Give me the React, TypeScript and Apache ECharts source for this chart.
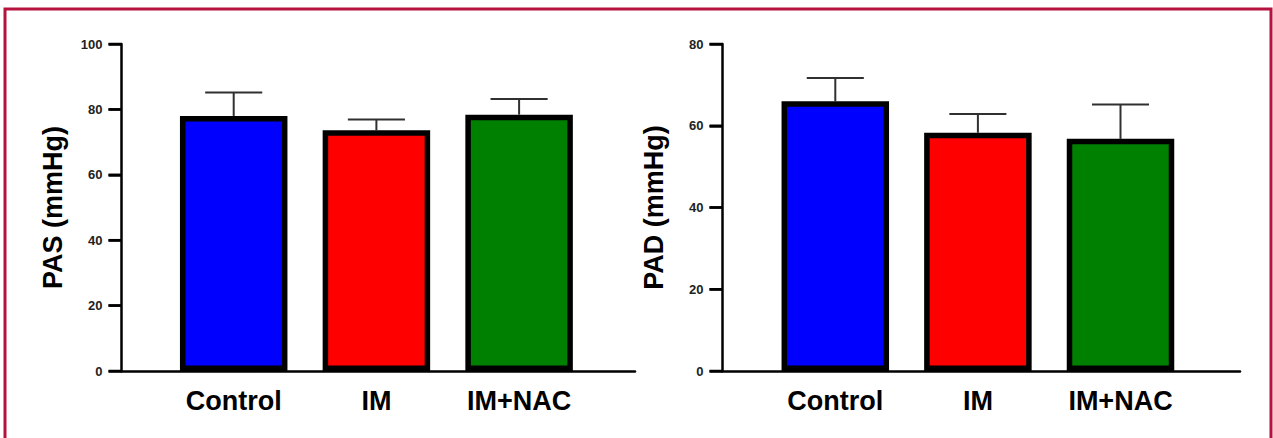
import React, { useEffect, useRef } from "react";
import * as echarts from "echarts";

const categories = ["Control", "IM", "IM+NAC"];
const barColors = ["#0000ff", "#ff0000", "#008000"];

const pasMean = [78.0, 73.6, 78.4];
const pasSem = [7.2, 3.3, 4.8];
const padMean = [66.0, 58.3, 56.8];
const padSem = [5.7, 4.6, 8.4];

const pasTickValues = [0, 20, 40, 60, 80, 100];
const padTickValues = [0, 20, 40, 60, 80];

const FONT = "'Liberation Sans', Arial, sans-serif";

function buildPanel(
  idx: number,
  axisLeft: number,
  axisRight: number,
  firstCenter: number,
  step: number,
  tickValues: number[],
  name: string,
  mean: number[],
  sem: number[]
) {
  const top = 44;
  const height = 327;
  const g0 = idx * 2;
  const g1 = idx * 2 + 1;
  const min = tickValues[0];
  const max = tickValues[tickValues.length - 1];
  const interval = tickValues[1] - tickValues[0];
  const grids = [
    { left: axisLeft, top, width: axisRight - axisLeft, height },
    { left: firstCenter - step / 2, top, width: step * categories.length, height },
  ];
  const xAxes = [
    {
      gridIndex: g0,
      type: "value",
      min: 0,
      max: 1,
      axisLine: { show: true, lineStyle: { color: "#000", width: 2.5 } },
      axisTick: { show: false },
      axisLabel: { show: false },
      splitLine: { show: false },
    },
    {
      gridIndex: g1,
      type: "category",
      data: categories,
      axisLine: { show: false },
      axisTick: { show: false },
      axisLabel: {
        margin: 16,
        color: "#000",
        fontSize: 27,
        fontWeight: "bold",
        fontFamily: FONT,
      },
    },
  ];
  const yAxes = [
    {
      gridIndex: g0,
      type: "value",
      min,
      max,
      interval,
      name,
      nameLocation: "middle",
      nameGap: 55,
      nameTextStyle: {
        color: "#000",
        fontSize: 27,
        fontWeight: "bold",
        fontFamily: FONT,
      },
      axisLine: { show: true, lineStyle: { color: "#000", width: 2.5 } },
      axisTick: { show: true, length: 13, lineStyle: { color: "#000", width: 2.5 } },
      axisLabel: {
        margin: 19,
        color: "#222",
        fontSize: 13,
        fontWeight: "bold",
        fontFamily: FONT,
      },
      splitLine: { show: false },
    },
    {
      gridIndex: g1,
      type: "value",
      min,
      max,
      interval,
      show: false,
      splitLine: { show: false },
    },
  ];
  const series = [
    {
      type: "custom",
      xAxisIndex: g0,
      yAxisIndex: g0,
      clip: false,
      silent: true,
      z: 3,
      data: tickValues.map((v) => [0, v]),
      renderItem: (params: any, api: any) => {
        const p = api.coord([api.value(0), api.value(1)]);
        return {
          type: "line",
          shape: { x1: p[0] - 13, y1: p[1], x2: p[0], y2: p[1] },
          style: { stroke: "#000", lineWidth: 2.5 },
        };
      },
    },
    {
      type: "bar",
      xAxisIndex: g1,
      yAxisIndex: g1,
      barWidth: 107.5,
      z: 2,
      data: mean.map((v, i) => ({
        value: v,
        itemStyle: { color: barColors[i], borderColor: "#000", borderWidth: 5.5 },
      })),
    },
    {
      type: "custom",
      xAxisIndex: g1,
      yAxisIndex: g1,
      z: 1,
      data: mean.map((v, i) => [i, v, v + sem[i]]),
      renderItem: (params: any, api: any) => {
        const x = api.value(0);
        const m = api.value(1);
        const u = api.value(2);
        const p0 = api.coord([x, m]);
        const p1 = api.coord([x, u]);
        const half = (api.size([1, 0])[0] * 0.4) / 2;
        const style = { stroke: "#303030", lineWidth: 2 };
        return {
          type: "group",
          children: [
            { type: "line", shape: { x1: p0[0], y1: p0[1], x2: p1[0], y2: p1[1] }, style },
            { type: "line", shape: { x1: p1[0] - half, y1: p1[1], x2: p1[0] + half, y2: p1[1] }, style },
          ],
        };
      },
    },
  ];
  return { grids, xAxes, yAxes, series };
}

export default function App() {
  const ref = useRef<HTMLDivElement>(null);
  useEffect(() => {
    document.body.style.margin = "0";
    if (!ref.current) return;
    const chart = echarts.init(ref.current, null, { renderer: "svg" });
    const left = buildPanel(0, 121.5, 635, 233.7, 142.7, pasTickValues, "PAS (mmHg)", pasMean, pasSem);
    const right = buildPanel(1, 722.5, 1240, 835.3, 142.6, padTickValues, "PAD (mmHg)", padMean, padSem);
    chart.setOption({
      animation: false,
      backgroundColor: "#ffffff",
      grid: [...left.grids, ...right.grids],
      xAxis: [...left.xAxes, ...right.xAxes],
      yAxis: [...left.yAxes, ...right.yAxes],
      series: [...left.series, ...right.series],
      graphic: [
        {
          type: "rect",
          silent: true,
          shape: { x: 5, y: 9, width: 1266, height: 470 },
          style: { fill: "none", stroke: "#b5123f", lineWidth: 3 },
          z: 10,
        },
      ],
    });
    return () => chart.dispose();
  }, []);
  return <div ref={ref} style={{ width: 1273, height: 438 }} />;
}
